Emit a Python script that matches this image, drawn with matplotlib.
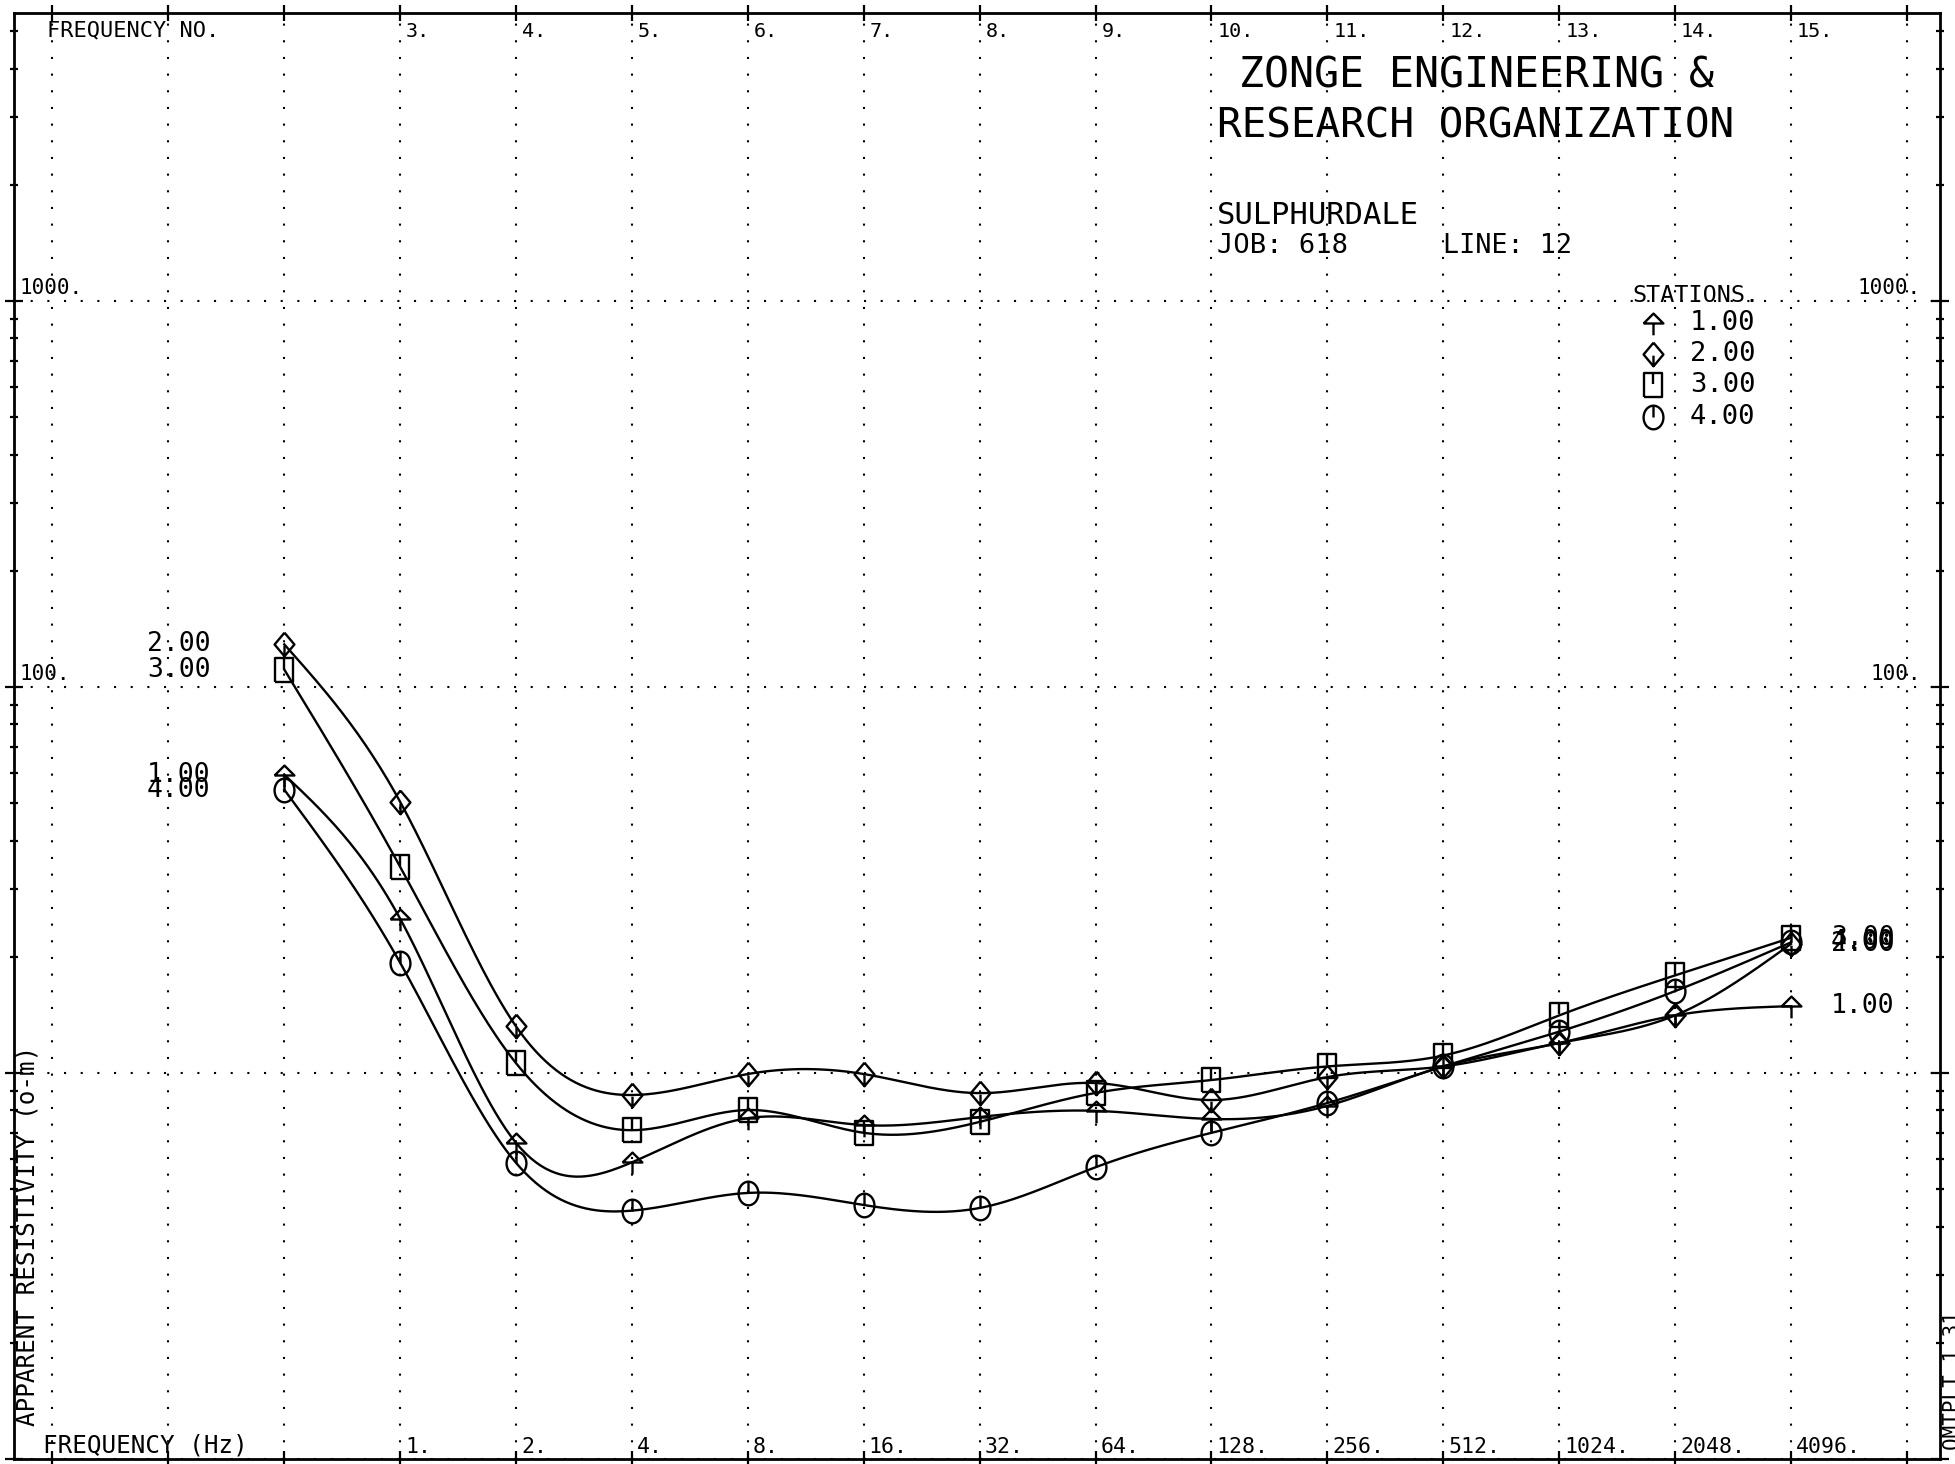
import numpy as np
import matplotlib
matplotlib.use("Agg")
import matplotlib.pyplot as plt
from matplotlib.path import Path
from matplotlib.lines import Line2D
from matplotlib import transforms
from matplotlib.ticker import FixedLocator, LogLocator, NullFormatter

# ---- data -------------------------------------------------------------
freq_index = [2, 3, 4, 5, 6, 7, 8, 9, 10, 11, 12, 13, 14, 15]
freq_no_labels = ["3.", "4.", "5.", "6.", "7.", "8.", "9.", "10.", "11.", "12.", "13.", "14.", "15."]
freq_hz_labels = ["1.", "2.", "4.", "8.", "16.", "32.", "64.", "128.", "256.", "512.", "1024.", "2048.", "4096."]
label_index = [3, 4, 5, 6, 7, 8, 9, 10, 11, 12, 13, 14, 15]

station_names = ["1.00", "2.00", "3.00", "4.00"]
rho_st1 = [59.3, 25.1, 6.59, 5.87, 7.64, 7.33, 7.69, 7.98, 7.60, 8.22, 10.4, 11.96, 14.1, 14.9]
rho_st2 = [129.0, 50.4, 13.2, 8.77, 9.94, 9.94, 8.87, 9.42, 8.51, 9.76, 10.4, 11.96, 14.1, 21.6]
rho_st3 = [111.0, 34.2, 10.6, 7.11, 8.02, 7.00, 7.47, 8.88, 9.59, 10.4, 11.1, 14.1, 17.9, 22.4]
rho_st4 = [54.2, 19.3, 5.85, 4.40, 4.89, 4.55, 4.47, 5.70, 7.00, 8.36, 10.4, 12.8, 16.3, 21.8]
station_values = [rho_st1, rho_st2, rho_st3, rho_st4]

decade_labels = [(1000, "1000."), (100, "100.")]

# ---- plotter-style symbols ------------------------------------------------
M, L = Path.MOVETO, Path.LINETO


def arrow_marker():
    v = [(-0.42, 0), (0.42, 0), (0, 0.42), (-0.42, 0), (0, 0), (0, -0.5)]
    c = [M, L, L, L, M, L]
    return Path(v, c)


def diamond_marker():
    v = [(0, 0.5), (0.42, 0), (0, -0.5), (-0.42, 0), (0, 0.5), (0, -0.5), (0, -0.05)]
    c = [M, L, L, L, L, M, L]
    return Path(v, c)


def square_marker():
    v = [(-0.4, -0.5), (0.4, -0.5), (0.4, 0.5), (-0.4, 0.5), (-0.4, -0.5), (0, 0.5), (0, 0.05)]
    c = [M, L, L, L, L, M, L]
    return Path(v, c)


def circle_marker():
    circ = Path.unit_circle()
    circ = Path(circ.vertices * np.array([0.42, 0.5]), circ.codes)
    tick = Path([(0, 0.5), (0, 0.0)], [M, L])
    return Path.make_compound_path(circ, tick)


markers = [arrow_marker(), diamond_marker(), square_marker(), circle_marker()]


def natural_spline(x, y, xs):
    x = np.asarray(x, float)
    y = np.asarray(y, float)
    n = len(x)
    h = np.diff(x)
    A = np.zeros((n, n))
    r = np.zeros(n)
    A[0, 0] = A[-1, -1] = 1.0
    for i in range(1, n - 1):
        A[i, i - 1] = h[i - 1]
        A[i, i] = 2 * (h[i - 1] + h[i])
        A[i, i + 1] = h[i]
        r[i] = 6 * ((y[i + 1] - y[i]) / h[i] - (y[i] - y[i - 1]) / h[i - 1])
    m2 = np.linalg.solve(A, r)
    k = np.clip(np.searchsorted(x, xs) - 1, 0, n - 2)
    t0 = x[k + 1] - xs
    t1 = xs - x[k]
    hk = h[k]
    return (m2[k] * t0 ** 3 / (6 * hk) + m2[k + 1] * t1 ** 3 / (6 * hk)
            + (y[k] / hk - m2[k] * hk / 6) * t0
            + (y[k + 1] / hk - m2[k + 1] * hk / 6) * t1)


# ---- figure -----------------------------------------------------------------
W, H = 1956, 1464
plt.rcParams["font.family"] = ["DejaVu Sans Mono", "DejaVu Sans"]
fig = plt.figure(figsize=(W / 100, H / 100), dpi=100)
fig.patch.set_facecolor("white")

left, right, top, bottom = 14, 1940, 12.7, 1459
ax = fig.add_axes([left / W, 1 - bottom / H, (right - left) / W, (bottom - top) / H])
ax.set_yscale("log")
ax.set_xlim(-0.332, 16.286)
ax.set_ylim(1.0, 5585)

ink = "black"
for s in ax.spines.values():
    s.set_linewidth(2.0)
    s.set_color(ink)

ax.xaxis.set_major_locator(FixedLocator(list(range(0, 17))))
ax.yaxis.set_major_locator(LogLocator(base=10))
ax.yaxis.set_minor_locator(LogLocator(base=10, subs=np.arange(2, 10)))
ax.yaxis.set_minor_formatter(NullFormatter())
ax.tick_params(axis="both", which="both", direction="inout", top=True, right=True,
               labelleft=False, labelbottom=False, color=ink)
ax.tick_params(axis="x", which="major", length=11, width=1.6)
ax.tick_params(axis="y", which="major", length=13, width=1.6)
ax.tick_params(axis="y", which="minor", length=6, width=1.6)

dot_style = (0, (1, 7))
ax.grid(True, which="major", axis="both", linestyle=dot_style, linewidth=1.5, color=ink)

# ---- curves -----------------------------------------------------------------
xs_dense = np.linspace(freq_index[0], freq_index[-1], 600)
for vals, mk in zip(station_values, markers):
    ly = natural_spline(freq_index, np.log10(vals), xs_dense)
    ax.plot(xs_dense, 10 ** ly, color=ink, linewidth=1.7, zorder=3)
    ax.plot(freq_index, vals, linestyle="none", marker=mk, markersize=17,
            markerfacecolor="none", markeredgecolor=ink, markeredgewidth=1.7, zorder=4)

# station labels at both ends of the curves
tr_left = transforms.offset_copy(ax.transData, x=-74, y=0, units="dots")
tr_right = transforms.offset_copy(ax.transData, x=40, y=0, units="dots")
for name, vals in zip(station_names, station_values):
    ax.text(freq_index[0], vals[0], name, transform=tr_left, ha="right", va="center",
            fontsize=19, color=ink)
    ax.text(freq_index[-1], vals[-1], name, transform=tr_right, ha="left", va="center",
            fontsize=19, color=ink)

# decade labels on both sides, sitting on the dotted lines
ytr = ax.get_yaxis_transform()
for val, txt in decade_labels:
    ax.text(0.0, val, txt, transform=transforms.offset_copy(ytr, x=5, y=7, units="dots"),
            ha="left", va="baseline", fontsize=15, color=ink)
    ax.text(1.0, val, txt, transform=transforms.offset_copy(ytr, x=-19, y=7, units="dots"),
            ha="right", va="baseline", fontsize=15, color=ink)

# frequency number / frequency labels along the top and bottom
xtr = ax.get_xaxis_transform()
top_tr = transforms.offset_copy(xtr, x=6, y=0, units="dots")
bot_tr = transforms.offset_copy(xtr, x=5, y=0, units="dots")
for i, (a, b) in enumerate(zip(freq_no_labels, freq_hz_labels)):
    ax.text(label_index[i], (bottom - 37) / (bottom - top), a, transform=top_tr,
            ha="left", va="baseline", fontsize=14.5, color=ink)
    ax.text(label_index[i], (bottom - 1453) / (bottom - top), b, transform=bot_tr,
            ha="left", va="baseline", fontsize=15.5, color=ink)


def ftext(px, py, s, **kw):
    kw.setdefault("color", ink)
    fig.text(px / W, 1 - py / H, s, **kw)


ftext(47, 36, "FREQUENCY NO.", fontsize=15.8, ha="left", va="baseline")
ftext(43, 1453, "FREQUENCY (Hz)", fontsize=17.5, ha="left", va="baseline")
ftext(35, 1426, "APPARENT RESISTIVITY (o-m)", fontsize=17.5, rotation=90,
      rotation_mode="anchor", ha="left", va="baseline")
ftext(1958, 1450, "QMTPLT 1.31", fontsize=15, rotation=90,
      rotation_mode="anchor", ha="left", va="baseline")

ftext(1239, 87, "ZONGE ENGINEERING &", fontsize=30, ha="left", va="baseline")
ftext(1217, 138, "RESEARCH ORGANIZATION", fontsize=29.5, ha="left", va="baseline")
ftext(1217, 224, "SULPHURDALE", fontsize=22, ha="left", va="baseline")
ftext(1217, 253, "JOB: 618", fontsize=19.5, ha="left", va="baseline")
ftext(1443, 253, "LINE: 12", fontsize=19.3, ha="left", va="baseline")

# station key
ftext(1632, 302, "STATIONS.", fontsize=16.8, ha="left", va="baseline")
for k, (name, mk) in enumerate(zip(station_names, markers)):
    yk = 323 + 31.2 * k
    fig.add_artist(Line2D([1653 / W], [1 - yk / H], transform=fig.transFigure,
                          marker=mk, markersize=17, markerfacecolor="none",
                          markeredgecolor=ink, markeredgewidth=1.7, linestyle="none"))
    ftext(1690, yk, name, fontsize=19.5, ha="left", va="center")

fig.savefig("out.png", dpi=100, facecolor="white")
